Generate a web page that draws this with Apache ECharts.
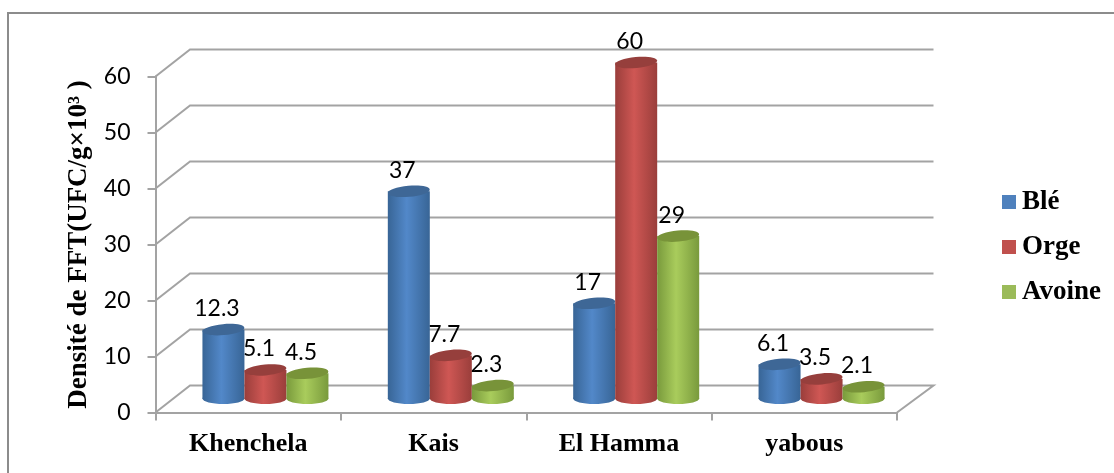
<!DOCTYPE html>
<html>
<head>
<meta charset="utf-8">
<style>html,body{margin:0;padding:0;background:#fff}#chart{width:1114px;height:473px}</style>
<script src="https://cdn.jsdelivr.net/npm/echarts@6/dist/echarts.min.js"></script>
</head>
<body>
<div id="chart"></div>
<script>
const categories = ['Khenchela', 'Kais', 'El Hamma', 'yabous'];
const ble = [12.3, 37, 17, 6.1];
const orge = [5.1, 7.7, 60, 3.5];
const avoine = [4.5, 2.3, 29, 2.1];
const valueTicks = [0, 10, 20, 30, 40, 50, 60];

const GREY = '#a3a3a3';
// Depth of the pseudo-3D box: how far the back wall sits from the front plane.
const DEPTH_X = 34.5, DEPTH_Y = 27, DEPTH_X_RIGHT = 36.5;
const BAR_W = 42, BAR_RY = 5.5;

const chart = echarts.init(document.getElementById('chart'), null, {renderer: 'canvas'});

function shade(edge, mid) {
  return new echarts.graphic.LinearGradient(0, 0, 1, 0, [
    {offset: 0, color: edge}, {offset: 0.45, color: mid}, {offset: 1, color: edge}
  ]);
}

// Cylinder for one value: body, rounded foot, tilted darker lid and the value label.
function cylinder(slot, edge, mid, lid, z) {
  return function (params, api) {
    const cat = api.value(0), val = api.value(1);
    const base = api.coord([cat, 0]);
    const top = api.coord([cat, val]);
    const cx = base[0] + slot * BAR_W + DEPTH_X / 2;
    const yBase = base[1] - DEPTH_Y / 2 - 0.5;
    const yTop = top[1] - DEPTH_Y / 2 - 0.5;
    const fill = shade(edge, mid);
    const tilt = 0.09;
    return {
      type: 'group',
      children: [
        {type: 'text', z2: 1, style: {
          text: String(val), x: cx - 6.5, y: yTop - 21, align: 'center', verticalAlign: 'middle',
          font: '23px Lato', fill: '#000'
        }},
        {type: 'ellipse', z2: z, shape: {cx: cx, cy: yBase, rx: BAR_W / 2, ry: BAR_RY}, style: {fill: fill}},
        {type: 'rect', z2: z, shape: {x: cx - BAR_W / 2, y: yTop, width: BAR_W, height: yBase - yTop}, style: {fill: fill}},
        {type: 'ellipse', z2: z, shape: {cx: cx, cy: yTop, rx: BAR_W / 2, ry: BAR_RY},
          originX: cx, originY: yTop, rotation: tilt, style: {fill: lid}}
      ]
    };
  };
}

function barSeries(name, values, slot, edge, mid, lid, z, legendColor) {
  return {
    name: name,
    type: 'custom',
    z: 3,
    itemStyle: {color: legendColor},
    encode: {x: 0, y: 1},
    clip: false,
    data: values.map((v, i) => [i, v]),
    renderItem: cylinder(slot, edge, mid, lid, z)
  };
}

chart.setOption({
  animation: false,
  backgroundColor: '#fff',
  textStyle: {fontFamily: 'Lato'},
  grid: {left: 155.5, right: 217, top: 76.5, bottom: 60.5, containLabel: false},
  xAxis: {
    type: 'category',
    data: categories,
    boundaryGap: true,
    axisLine: {lineStyle: {color: GREY, width: 2}},
    axisTick: {show: true, length: 8, lineStyle: {color: GREY, width: 2}},
    axisLabel: {
      margin: 19, color: '#000', fontFamily: 'Liberation Serif', fontWeight: 'bold', fontSize: 26
    }
  },
  yAxis: {
    type: 'value',
    min: 0, max: 60, interval: 10,
    name: 'Densité de FFT(UFC/g×10³ )',
    nameLocation: 'middle',
    nameRotate: 90,
    nameGap: 62,
    nameTextStyle: {color: '#000', fontFamily: 'Liberation Serif', fontWeight: 'bold', fontSize: 27},
    axisLine: {show: true, lineStyle: {color: GREY, width: 2}},
    axisTick: {show: true, length: 8, lineStyle: {color: GREY, width: 2}},
    splitLine: {show: false},
    axisLabel: {margin: 25, color: '#000', fontFamily: 'Lato', fontSize: 23}
  },
  legend: {
    orient: 'vertical',
    left: 1002,
    top: 188.5,
    padding: 0,
    icon: 'rect',
    itemWidth: 14,
    itemHeight: 14,
    itemGap: 18,
    selectedMode: false,
    textStyle: {color: '#000', fontFamily: 'Liberation Serif', fontWeight: 'bold', fontSize: 27, padding: [0, 0, 0, 1]},
    data: ['Blé', 'Orge', 'Avoine']
  },
  series: [
    {
      // Back-wall gridlines with their diagonal returns to the value axis, plus the floor edge.
      type: 'custom',
      z: 1,
      silent: true,
      clip: false,
      legendHoverLink: false,
      encode: {y: 0},
      data: valueTicks.map(v => [v]),
      renderItem: function (params, api) {
        const sys = params.coordSys;
        const p = api.coord([0, api.value(0)]);
        const y = p[1], x0 = sys.x, x1 = sys.x + sys.width;
        const pts = [[x0, y], [x0 + DEPTH_X, y - DEPTH_Y], [x1 + DEPTH_X_RIGHT, y - DEPTH_Y]];
        if (api.value(0) === 0) pts.push([x1, y]);
        return {type: 'polyline', shape: {points: pts}, style: {stroke: GREY, lineWidth: 2, fill: null}};
      }
    },
    barSeries('Blé', ble, -1, '#386596', '#5288c9', '#3e6796', 10, '#4f81bd'),
    barSeries('Orge', orge, 0, '#9a3e3b', '#cf5754', '#963f3c', 11, '#c0504d'),
    barSeries('Avoine', avoine, 1, '#799a3c', '#a9cc5c', '#789339', 12, '#9bbb59')
  ],
  graphic: [
    // Outer frame of the chart area.
    {type: 'polyline', silent: true, shape: {points: [[8, 473], [8, 13], [1114, 13]]},
      style: {stroke: '#8c8c8c', lineWidth: 2, fill: null}}
  ]
});
</script>
</body>
</html>
